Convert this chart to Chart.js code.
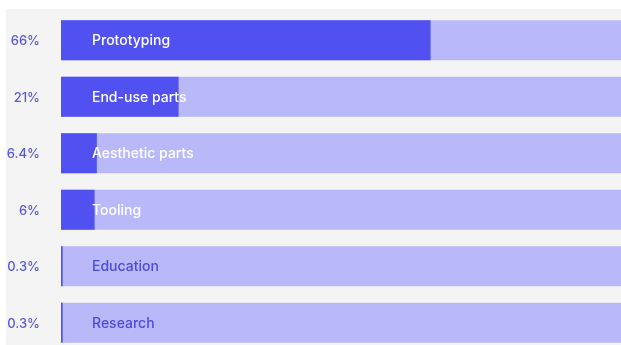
<!DOCTYPE html>
<html>
<head>
<meta charset="utf-8">
<script src="https://cdn.jsdelivr.net/npm/chart.js@4/dist/chart.umd.min.js"></script>
<style>
  html, body { margin: 0; padding: 0; background: #ffffff; overflow: hidden; }
  canvas { display: block; }
</style>
</head>
<body>
<canvas id="c" width="621" height="352"></canvas>
<script>
// Share of 3D printing applications (%)
const categories = ['Prototyping', 'End-use parts', 'Aesthetic parts', 'Tooling', 'Education', 'Research'];
const shares = [66, 21, 6.4, 6, 0.3, 0.3];
const track = [100, 100, 100, 100, 100, 100];
const tickLabels = ['66%', '21%', '6.4%', '6%', '0.3%', '0.3%'];

const DARK = '#5151f1';
const LIGHT = '#b9b9f9';
const PANEL = '#f4f4f5';
const FONT = 'Inter, "Noto Sans", sans-serif';

// light panel behind the bars
const panelPlugin = {
  id: 'panel',
  beforeDraw(chart) {
    const ctx = chart.ctx;
    ctx.save();
    ctx.fillStyle = PANEL;
    ctx.fillRect(6, 9, chart.width - 6, chart.height - 9);
    ctx.restore();
  }
};

// category names written inside each bar
const namePlugin = {
  id: 'names',
  afterDatasetsDraw(chart) {
    const ctx = chart.ctx;
    const meta = chart.getDatasetMeta(0);
    ctx.save();
    ctx.font = '500 14px ' + FONT;
    ctx.textAlign = 'left';
    ctx.textBaseline = 'middle';
    meta.data.forEach((bar, i) => {
      ctx.fillStyle = shares[i] >= 1 ? '#ffffff' : '#4b4bd8';
      ctx.fillText(categories[i], chart.chartArea.left + 31, bar.y + 1);
    });
    ctx.restore();
  }
};

new Chart(document.getElementById('c'), {
  type: 'bar',
  data: {
    labels: categories,
    datasets: [
      { data: shares, backgroundColor: DARK, order: 0, grouped: false,
        categoryPercentage: 1, barPercentage: 0.708 },
      { data: track, backgroundColor: LIGHT, order: 1, grouped: false,
        categoryPercentage: 1, barPercentage: 0.708 }
    ]
  },
  options: {
    indexAxis: 'y',
    responsive: false,
    animation: false,
    layout: { padding: { top: 12, bottom: 1, left: 0, right: 0 } },
    plugins: { legend: { display: false }, tooltip: { enabled: false } },
    scales: {
      x: { display: false, min: 0, max: 100 },
      y: {
        grid: { display: false, drawTicks: false },
        border: { display: false },
        afterFit(scale) {
          scale.width = 61;
          scale.paddingTop = 0;
          scale.paddingBottom = 0;
        },
        ticks: {
          padding: 21,
          labelOffset: 1,
          color: '#5a5ad6',
          font: { family: FONT, size: 13, weight: '500' },
          callback: (v, i) => tickLabels[i]
        }
      }
    }
  },
  plugins: [panelPlugin, namePlugin]
});
</script>
</body>
</html>
